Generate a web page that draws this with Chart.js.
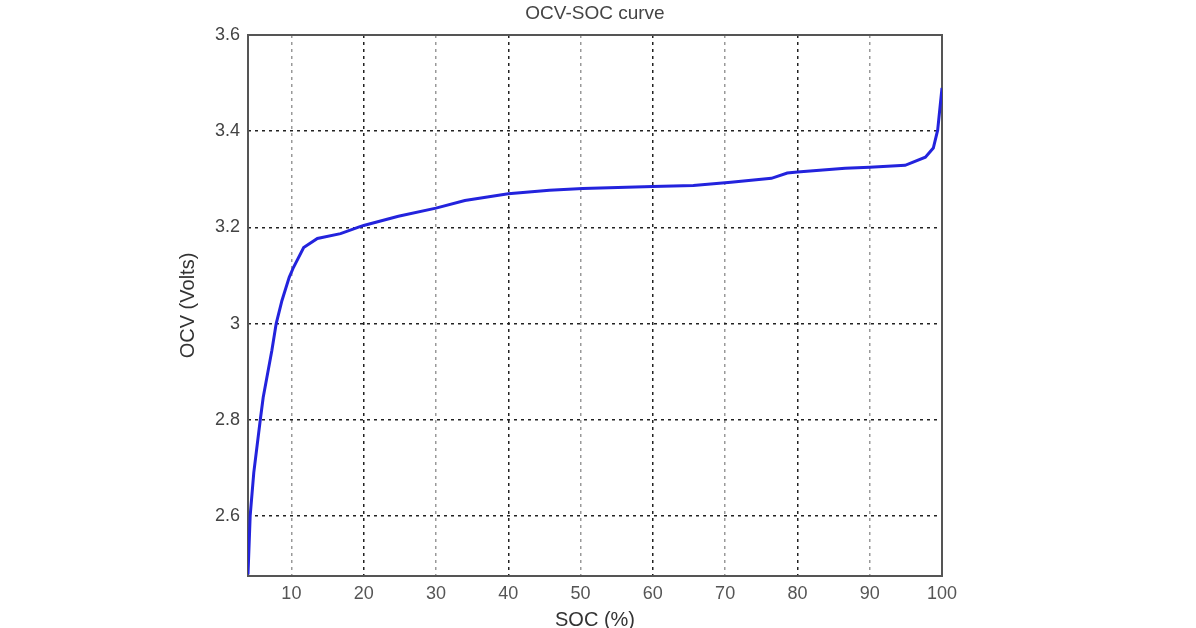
<!DOCTYPE html>
<html>
<head>
<meta charset="utf-8">
<script src="https://cdn.jsdelivr.net/npm/chart.js@4"></script>
<style>
  body { margin: 0; background: #fff; }
  #wrap { width: 1196px; height: 628px; }
</style>
</head>
<body>
<div id="wrap"><canvas id="chart" width="1196" height="628"></canvas></div>
<script>
// values
const socValues = [
  4.0, 4.3, 4.8, 5.7, 6.1, 7.3, 7.9, 8.7, 9.7, 10.3,
  11.7, 13.6, 16.8, 19.2, 20, 24.8, 30, 34, 40, 45.7,
  50.3, 60, 65.6, 70.8, 76.4, 78.6, 80, 86.6, 90, 94.9,
  97.7, 98.8, 99.4, 100,
];
const ocvValues = [
  2.478, 2.6, 2.69, 2.8, 2.846, 2.944, 3.0, 3.048, 3.096, 3.117,
  3.158, 3.177, 3.187, 3.2, 3.204, 3.223, 3.24, 3.256, 3.27, 3.277,
  3.281, 3.285, 3.287, 3.294, 3.302, 3.313, 3.315, 3.323, 3.325, 3.329,
  3.346, 3.365, 3.402, 3.49,
];
const xTickValues = [10, 20, 30, 40, 50, 60, 70, 80, 90, 100];
const yTickValues = [2.6, 2.8, 3, 3.2, 3.4, 3.6];

const FONT = "'Liberation Sans', Arial, sans-serif";

// box round the plot area
const framePlugin = {
  id: 'frame',
  beforeDatasetsDraw: (chart) => {
    let a = chart.chartArea;
    let ctx = chart.ctx;
    ctx.save();
    ctx.strokeStyle = '#555';
    ctx.lineWidth = 2;
    ctx.strokeRect(a.left, a.top, a.right - a.left, a.bottom - a.top);
    ctx.restore();
  },
};

new Chart(document.getElementById('chart'), {
  type: 'line',
  data: {
    datasets: [
      {
        label: 'OCV',
        data: socValues.map((s, i) => ({ x: s, y: ocvValues[i] })),
        borderColor: '#2323dd',
        borderWidth: 3,
        pointRadius: 0,
        fill: false,
        tension: 0,
      },
    ],
  },
  options: {
    responsive: false,
    animation: false,
    layout: { padding: { left: 0, right: 254, top: 0, bottom: 0 } },
    plugins: {
      legend: { display: false },
      tooltip: { enabled: false },
      title: {
        display: true,
        fullSize: false,
        text: 'OCV-SOC curve',
        color: '#444',
        font: { family: FONT, size: 19, weight: 'normal', lineHeight: 1 },
        padding: { top: 4, bottom: 12 },
      },
    },
    scales: {
      x: {
        type: 'linear',
        min: 4,
        max: 100,
        afterBuildTicks: (scale) => {
          scale.ticks = xTickValues.map((v) => ({ value: v }));
        },
        afterFit: (scale) => {
          scale.height = 52;
        },
        ticks: {
          color: '#555',
          padding: 7,
          maxRotation: 0,
          font: { family: FONT, size: 18 },
        },
        grid: {
          drawTicks: false,
          color: (c) => (c.tick && c.tick.value % 20 === 0 ? '#222' : '#999'),
          lineWidth: 1.5,
        },
        border: { display: false, dash: [3, 4] },
        title: {
          display: true,
          text: 'SOC (%)',
          color: '#333',
          font: { family: FONT, size: 20, lineHeight: 1 },
          padding: { top: 0, bottom: -2 },
        },
      },
      y: {
        type: 'linear',
        min: 2.475,
        max: 3.6,
        afterBuildTicks: (scale) => {
          scale.ticks = yTickValues.map((v) => ({ value: v }));
        },
        afterFit: (scale) => {
          scale.width = 248;
        },
        ticks: {
          color: '#444',
          padding: 8,
          font: { family: FONT, size: 18 },
          callback: (v) => String(v),
        },
        grid: {
          drawTicks: false,
          color: '#222',
          lineWidth: 1.5,
        },
        border: { display: false, dash: [3, 4] },
        title: {
          display: true,
          text: 'OCV (Volts)',
          color: '#333',
          font: { family: FONT, size: 20, lineHeight: 1 },
          padding: { top: 178, bottom: 0 },
        },
      },
    },
  },
  plugins: [framePlugin],
});
</script>
</body>
</html>
